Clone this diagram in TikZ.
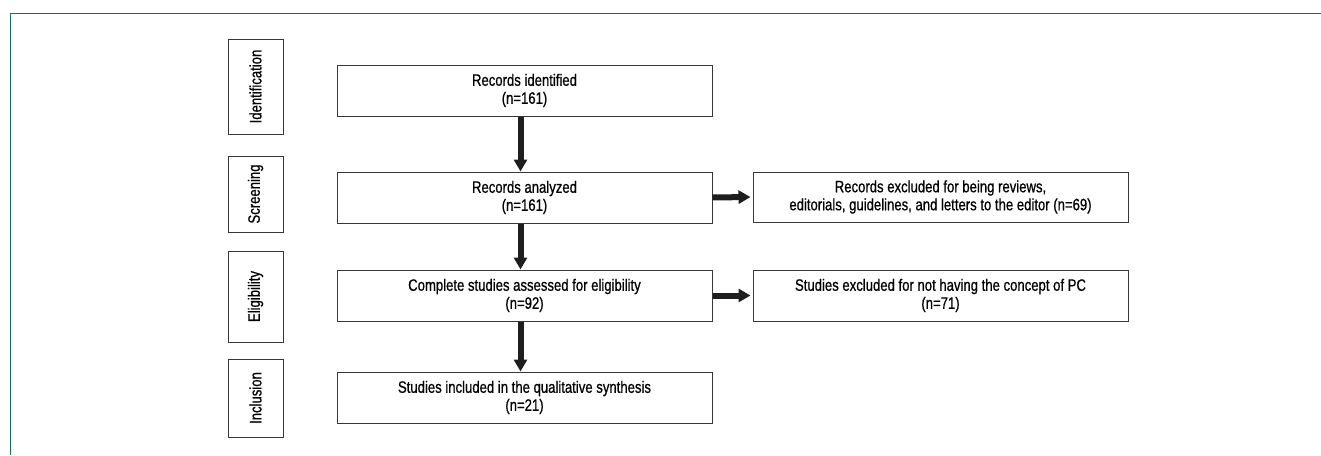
\documentclass[tikz,border=0pt]{standalone}
\usepackage{fontspec}
\setmainfont{Liberation Sans}[FakeStretch=0.795,FakeBold=0.7]
\usetikzlibrary{arrows.meta}
\definecolor{frameteal}{RGB}{18,112,100}
\definecolor{boxline}{RGB}{55,55,55}
\definecolor{arrowc}{RGB}{30,30,30}
\tikzset{
  mainbox/.style={draw=boxline, line width=1pt, minimum width=375pt, minimum height=51pt, align=center, inner sep=0pt, font=\fontsize{16.5pt}{18pt}\selectfont},
  sidebox/.style={draw=boxline, line width=1pt, minimum width=55pt, inner sep=0pt},
  sidetext/.style={rotate=90, font=\fontsize{16.5pt}{18pt}\selectfont},
  flowarrow/.style={draw=arrowc, line width=6pt, -{Triangle[width=13pt,length=12pt]}}
}
\begin{document}
\begin{tikzpicture}[x=1pt,y=-1pt]
\useasboundingbox (0,0) rectangle (1321,455);
% frame
\draw[frameteal, line width=1.8pt] (10.5,455) -- (10.5,13.5) -- (1321,13.5);
% side boxes
\node[sidebox, minimum height=95pt] (s1) at (255.5,86.5) {};
\node[sidetext] (t1) at (s1.center) {Identification};
\node[sidebox, minimum height=76pt] (s2) at (255.5,194) {};
\node[sidetext] (t2) at (s2.center) {Screening};
\node[sidebox, minimum height=91pt] (s3) at (255.5,296.5) {};
\node[sidetext] (t3) at (s3.center) {Eligibility};
\node[sidebox, minimum height=78pt] (s4) at (255.5,398) {};
\node[sidetext] (t4) at (s4.center) {Inclusion};
% main boxes
\node[mainbox] (id) at (524.5,90.5) {Records identified\\(n=161)};
\node[mainbox] (an) at (524.5,197.5) {Records analyzed\\(n=161)};
\node[mainbox] (el) at (524.5,295.5) {Complete studies assessed for eligibility\\(n=92)};
\node[mainbox] (inc) at (524.5,397.5) {Studies included in the qualitative synthesis\\(n=21)};
% right boxes
\node[mainbox, minimum height=50pt] (ex1) at (940.5,197) {Records excluded for being reviews,\\editorials, guidelines, and letters to the editor (n=69)};
\node[mainbox] (ex2) at (940.5,295.5) {Studies excluded for not having the concept of PC\\(n=71)};
% arrows
\draw[flowarrow] ([xshift=-4pt]id.south) -- ([xshift=-4pt]an.north);
\draw[flowarrow] ([xshift=-4pt]an.south) -- ([xshift=-4pt]el.north);
\draw[flowarrow] ([xshift=-4pt]el.south) -- ([xshift=-4pt]inc.north);
\draw[flowarrow] (an.east) -- ([xshift=-2pt]ex1.west);
\draw[flowarrow] (el.east) -- ([xshift=-2pt]ex2.west);
\end{tikzpicture}
\end{document}
